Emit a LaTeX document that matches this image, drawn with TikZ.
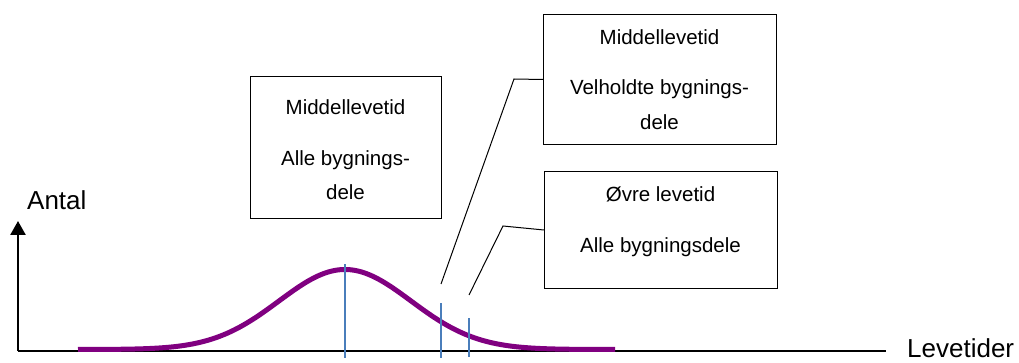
\documentclass[tikz,border=0pt]{standalone}
\usepackage{fontspec}
\setmainfont{Liberation Sans}
\usetikzlibrary{arrows.meta}
\definecolor{curvepurple}{RGB}{128,0,128}
\definecolor{markblue}{RGB}{74,126,187}
\tikzset{
  infobox/.style={draw=black, line width=1pt, fill=white, anchor=north west, inner sep=0pt},
  boxtext/.style={anchor=base, inner sep=0pt, font=\fontsize{20.5}{24}\selectfont},
  axislabel/.style={anchor=base west, inner sep=0pt, font=\fontsize{26}{30}\selectfont},
  axisline/.style={line width=2.5pt, black},
  leader/.style={line width=1pt, black},
  marker/.style={line width=1.8pt, markblue},
  distcurve/.style={line width=5pt, curvepurple}
}
\begin{document}
\begin{tikzpicture}[x=1pt, y=-1pt]
\useasboundingbox (0,0) rectangle (1019,363);

% axes
\coordinate (origin) at (18,351);
\coordinate (ytop) at (18,221);
\coordinate (xend) at (886,351);
\draw[axisline] (origin) -- (xend);
\draw[axisline, -{Triangle[width=15pt,length=14pt]}] (origin) -- (ytop);
\node[axislabel] (antal) at (27,210) {Antal};
\node[axislabel] (levetider) at (907,357) {Levetider};

% distribution of service lives
\draw[distcurve] plot[domain=78:615, samples=200]
  (\x, {349.5 - 80*exp(-0.5*((\x-345)/66)^2)});

% markers on the time axis
\coordinate (m1top) at (345,264);
\coordinate (m1bot) at (345,358);
\coordinate (m2top) at (441,303);
\coordinate (m2bot) at (441,358);
\coordinate (m3top) at (469,318);
\coordinate (m3bot) at (469,357);
\draw[marker] (m1top) -- (m1bot);
\draw[marker] (m2top) -- (m2bot);
\draw[marker] (m3top) -- (m3bot);

% boxes
\node[infobox, minimum width=191pt, minimum height=142pt] (box1) at (250,76) {};
\node[infobox, minimum width=233pt, minimum height=130pt] (box2) at (543,14) {};
\node[infobox, minimum width=233pt, minimum height=117pt] (box3) at (544,171) {};

\node[boxtext] (b1a) at (345.5,115) {Middellevetid};
\node[boxtext] (b1b) at (345.5,166) {Alle bygnings-};
\node[boxtext] (b1c) at (345.5,200) {dele};

\node[boxtext] (b2a) at (659.5,45) {Middellevetid};
\node[boxtext] (b2b) at (659.5,95) {Velholdte bygnings-};
\node[boxtext] (b2c) at (659.5,130) {dele};

\node[boxtext] (b3a) at (660.5,202) {Øvre levetid};
\node[boxtext] (b3b) at (660.5,253) {Alle bygningsdele};

% leader lines from the boxes to the axis
\coordinate (knee1) at (514,79);
\coordinate (end1) at (441,284);
\coordinate (knee2) at (503,226);
\coordinate (end2) at (469,295);
\draw[leader] (box2.west) -- (knee1) -- (end1);
\draw[leader] (box3.west) -- (knee2) -- (end2);
\end{tikzpicture}
\end{document}
